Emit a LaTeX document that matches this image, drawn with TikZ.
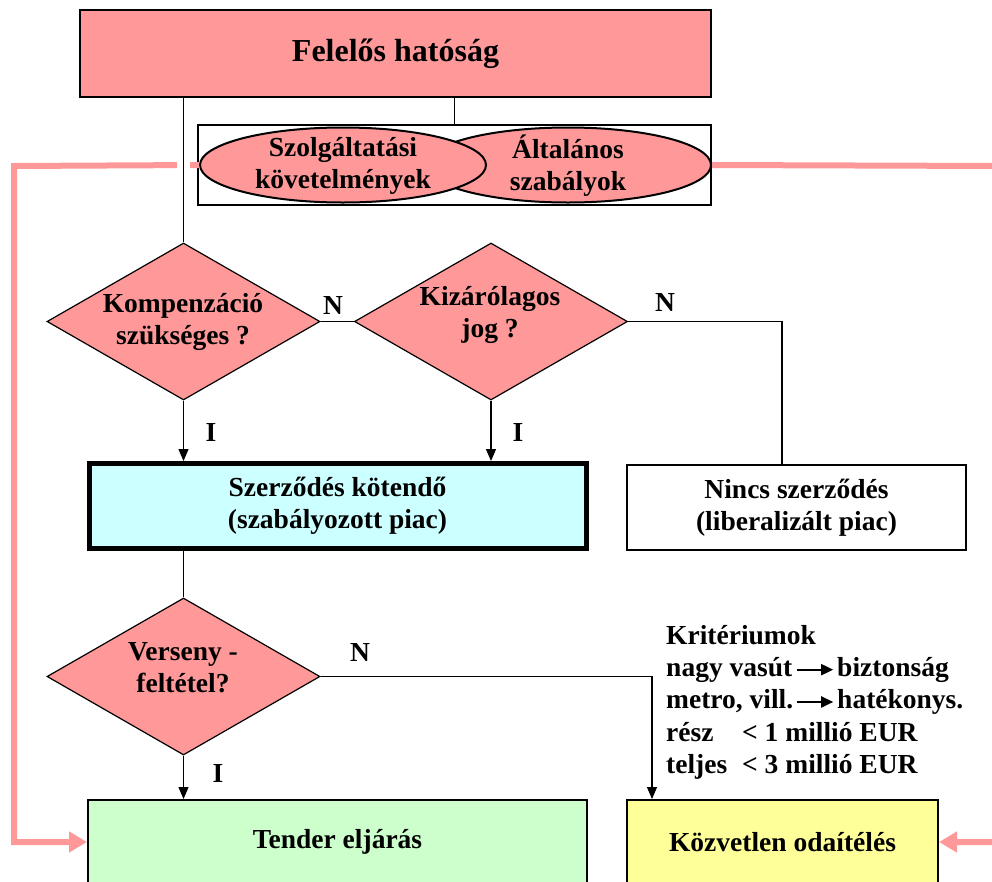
\documentclass[tikz,border=0pt]{standalone}
\usepackage{fontspec}
\setmainfont{Liberation Serif}
\usetikzlibrary{arrows.meta,shapes.geometric}
\definecolor{pinkfill}{HTML}{FF9999}
\definecolor{cyanfill}{HTML}{CCFFFF}
\definecolor{greenfill}{HTML}{CCFFCC}
\definecolor{yellowfill}{HTML}{FFFF99}
\tikzset{
  txt/.style={font=\bfseries\fontsize{27.5}{32}\selectfont, align=center, inner sep=0pt},
  boxnode/.style={draw, line width=2pt, rectangle, inner sep=0pt, txt},
  dia/.style={draw, line width=1.2pt, diamond, fill=pinkfill, inner sep=0pt, minimum width=273pt, minimum height=157pt},
  ell/.style={draw, line width=2pt, ellipse, fill=pinkfill, inner sep=0pt, minimum width=286pt, minimum height=75pt},
  conn/.style={line width=1.2pt},
  arr/.style={line width=1.2pt, -{Triangle[length=12pt,width=10pt]}},
  pinkarrow/.style={draw=pinkfill, line width=6pt, -{Triangle[length=18pt,width=20pt]}},
  lbl/.style={txt}
}
\newcommand{\myarrow}{\tikz[baseline=-0.55ex]{\draw[line width=2pt,-{Triangle[length=12pt,width=11pt]}] (0pt,0pt) -- (36pt,0pt);}}
\begin{document}
\begin{tikzpicture}[x=1pt,y=-1pt]
\path[use as bounding box] (0,0) rectangle (992,881);
\clip (0,0) rectangle (992,881);

% top authority box
\node[boxnode, fill=pinkfill, minimum width=631pt, minimum height=87pt, font=\bfseries\fontsize{32}{36}\selectfont] (auth) at (395.5,53.5) {Felelős hatóság};

% group rectangle with ellipses
\node[draw, line width=2pt, rectangle, minimum width=513pt, minimum height=80pt, inner sep=0pt] (grp) at (454.5,165) {};
\node[ell] (ell2) at (568,165) {};
\node[ell] (ell1) at (343,165) {};
\node[txt] (t1) at (343,166) {Szolgáltatási\\követelmények};
\node[txt] (t2) at (568,166) {Általános\\szabályok};

% diamonds
\node[dia] (d1) at (183.5,321.5) {};
\node[txt] (d1t) at (183,321.5) {Kompenzáció\\szükséges ?};
\node[dia] (d2) at (491,321.5) {};
\node[txt] (d2t) at (490,315) {Kizárólagos\\jog ?};
\node[dia] (d3) at (183.5,676.5) {};
\node[txt] (d3t) at (183,668) {Verseny -\\feltétel?};

% boxes
\node[boxnode, line width=5pt, fill=cyanfill, minimum width=497pt, minimum height=85pt] (szerz) at (337.5,506) {Szerződés kötendő\\(szabályozott piac)};
\node[boxnode, fill=white, minimum width=339pt, minimum height=85pt] (nincs) at (796.5,507.5) {Nincs szerződés\\(liberalizált piac)};
\node[boxnode, fill=greenfill, minimum width=499pt, minimum height=84pt] (tender) at (337.5,842) {Tender eljárás};
\node[boxnode, fill=yellowfill, minimum width=311pt, minimum height=84pt] (kozv) at (782.5,842) {Közvetlen odaítélés};

% pink feedback lines
\coordinate (lc) at (14,166);
\coordinate (rc) at (1000,166);
\draw[pinkarrow] (ell1.west) -- (lc) |- (tender.west);
\draw[pinkarrow] (ell2.east) -- (rc) |- (kozv.east);

% connectors
\draw[conn, preaction={draw=white, line width=13pt}] (d1.north |- auth.south) -- (d1.north);
\draw[conn] (auth.south -| grp.north) -- (grp.north);
\draw[conn] (d1.east) -- (d2.west);
\coordinate (nc) at (782,321.5);
\draw[conn] (d2.east) -- (nc) -- (nc |- nincs.north);
\draw[arr] (d1.south) -- (d1.south |- szerz.north);
\draw[arr] (d2.south) -- (d2.south |- szerz.north);
\draw[conn] (szerz.south -| d3.north) -- (d3.north);
\draw[arr] (d3.south) -- (d3.south |- tender.north);
\coordinate (kc) at (652,676.5);
\draw[arr] (d3.east) -- (kc) -- (kc |- kozv.north);

% labels
\node[lbl] (n1) at (333,305) {N};
\node[lbl] (n2) at (665,302) {N};
\node[lbl] (i1) at (211,432) {I};
\node[lbl] (i2) at (518,432) {I};
\node[lbl] (n3) at (360,652) {N};
\node[lbl] (i3) at (218,773) {I};

% criteria
\node[txt, font=\bfseries\fontsize{27.5}{32.3}\selectfont, align=left, anchor=north west] (crit) at (666,625) {Kritériumok\\
\makebox[130pt][l]{nagy vasút}\myarrow\hspace{3pt}biztonság\\
\makebox[130pt][l]{metro, vill.}\myarrow\hspace{3pt}hatékonys.\\
\makebox[76pt][l]{rész}< 1 millió EUR\\
\makebox[76pt][l]{teljes}< 3 millió EUR};
\end{tikzpicture}
\end{document}
